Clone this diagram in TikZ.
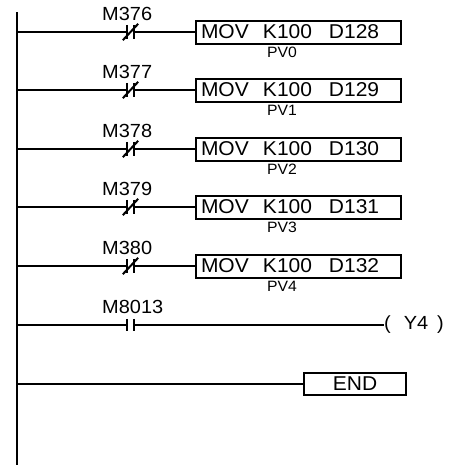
\documentclass[tikz,border=0pt]{standalone}
\usepackage{fontspec}
\setmainfont{Liberation Sans}[FakeStretch=1.05]
\newcommand{\bigf}{\fontsize{19}{22}\selectfont}
\newcommand{\boxf}{\fontsize{20}{23}\selectfont}
\newcommand{\smallf}{\fontsize{15}{17}\selectfont}
\begin{document}
\begin{tikzpicture}[x=1pt,y=-1pt,
  wire/.style={line width=2pt},
  fbbox/.style={draw, line width=2pt, minimum height=23pt, inner sep=0pt, font=\boxf},
  contact/.style={minimum width=7pt, minimum height=14pt, inner sep=0pt},
  nocontact/.style={minimum width=7pt, minimum height=12pt, inner sep=0pt},
  lbl/.style={inner sep=0pt, font=\bigf},
  pvl/.style={inner sep=0pt, font=\smallf}]
\useasboundingbox (0,0) rectangle (454,472);
\fill[white] (0,0) rectangle (454,472);
% power rail
\coordinate (top) at (17,12);
\coordinate (bot) at (17,465);
\draw[wire] (top) -- (bot);
% MOV rungs
\foreach \i/\y/\m/\d in {0/32/376/128,1/90/377/129,2/149/378/130,3/207/379/131,4/266/380/132}{
  \coordinate (r\i) at (17,\y);
  \node[contact] (c\i) at (130.5,\y) {};
  \node[fbbox, minimum width=205pt, text width=195pt, align=left, anchor=west] (b\i) at (195,\y)
     {\makebox[62pt][l]{MOV}\makebox[66pt][l]{K100}D\d};
  \node[lbl, anchor=west] (m\i) at (102,\y-18.5) {M\m};
  \node[pvl] (p\i) at (282,\y+20) {PV\i};
  \draw[wire] (r\i) -- (c\i.west);
  \draw[wire] (c\i.east) -- (b\i.west);
  \draw[wire] (c\i.north west) -- (c\i.south west);
  \draw[wire] (c\i.north east) -- (c\i.south east);
  \draw[wire] ([shift={(-4,1)}]c\i.south west) -- ([shift={(4,-1)}]c\i.north east);
}
% M8013 rung
\coordinate (r5) at (17,325);
\node[nocontact] (c5) at (130.5,325) {};
\node[lbl, anchor=west] (m5) at (102,306.5) {M8013};
\node[lbl, anchor=west] (y4) at (384,325) {(\hspace{13pt}Y4\hspace{9pt})};
\draw[wire] (r5) -- (c5.west);
\draw[wire] (c5.east) -- (y4.west);
\draw[wire] (c5.north west) -- (c5.south west);
\draw[wire] (c5.north east) -- (c5.south east);
% END rung
\coordinate (r6) at (17,384);
\node[fbbox, minimum width=102pt, minimum height=22pt, anchor=west] (endb) at (303,384) {END};
\draw[wire] (r6) -- (endb.west);
\end{tikzpicture}
\end{document}
